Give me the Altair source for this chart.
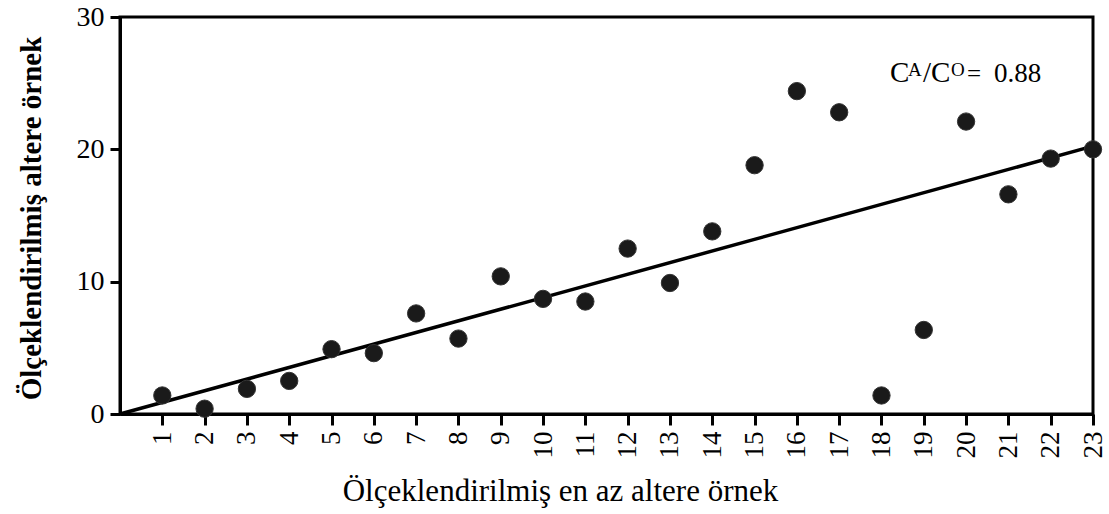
import altair as alt
import pandas as pd

# Data
samples = list(range(1, 24))
altere = [1.4, 0.4, 1.9, 2.5, 4.9, 4.6, 7.6, 5.7, 10.4, 8.7, 8.5, 12.5, 9.9,
          13.8, 18.8, 24.4, 22.8, 1.4, 6.35, 22.1, 16.6, 19.3, 20.0]
fit_x = [0, 23]
fit_y = [0, 20.24]
y_ticks = [0, 10, 20, 30]

# annotation pieces: text, font size, dx, dy
ann_text = ["C", "A", "/C", "O", "=", "0.88"]
ann_size = [29, 19, 29, 19, 25, 27]
ann_dx = [0, 18, 33, 61, 77, 104]
ann_dy = [0, -6, 0, -6, 0, 0]
ann_x = 18.2
ann_y = 25.09

SERIF = "Times New Roman, Liberation Serif, serif"

pts = pd.DataFrame({"x": samples, "y": altere})
fit = pd.DataFrame({"x": fit_x, "y": fit_y})

xscale = alt.Scale(domain=[0, 23], nice=False, zero=True)
yscale = alt.Scale(domain=[0, 30], nice=False)

xaxis = alt.Axis(
    values=samples, labelAngle=270, labelFont=SERIF, labelFontSize=27,
    labelColor="black", labelPadding=6, tickSize=11, tickWidth=3,
    tickColor="black", domainColor="black", domainWidth=3, grid=False,
    title="Ölçeklendirilmiş en az altere örnek", titleFont=SERIF,
    titleFontSize=31, titleFontWeight="normal", titleColor="black",
    titleX=440, titleY=86, titleAlign="center", titleBaseline="alphabetic",
)
yaxis = alt.Axis(
    values=y_ticks, labelFont=SERIF, labelFontSize=28, labelColor="black",
    labelPadding=6, tickSize=10, tickWidth=3, tickColor="black",
    domainColor="black", domainWidth=3, grid=False,
    title="Ölçeklendirilmiş altere örnek", titleFont=SERIF, titleFontSize=29,
    titleFontWeight="bold", titleColor="black", titleX=-80, titleY=201,
    titleAlign="center", titleBaseline="alphabetic", titleAngle=270,
)

line = alt.Chart(fit).mark_line(color="black", strokeWidth=3.5).encode(
    x=alt.X("x:Q", scale=xscale, axis=xaxis),
    y=alt.Y("y:Q", scale=yscale, axis=yaxis),
)

points = alt.Chart(pts).mark_circle(
    size=300, color="#1a1a1a", opacity=1, stroke="#333333", strokeWidth=1
).encode(
    x=alt.X("x:Q", scale=xscale),
    y=alt.Y("y:Q", scale=yscale),
)

layers = [line, points]
for t, s, dx, dy in zip(ann_text, ann_size, ann_dx, ann_dy):
    layers.append(
        alt.Chart(pd.DataFrame({"x": [ann_x], "y": [ann_y], "t": [t]}))
        .mark_text(font=SERIF, fontSize=s, color="black", align="left",
                   baseline="alphabetic", dx=dx, dy=dy)
        .encode(x=alt.X("x:Q", scale=xscale), y=alt.Y("y:Q", scale=yscale),
                text="t:N")
    )

chart = alt.layer(*layers).properties(
    width=973, height=397,
    autosize=alt.AutoSizeParams(type="none"),
    padding={"left": 120, "top": 17, "right": 16, "bottom": 100},
    background="white",
).configure_view(stroke="black", strokeWidth=3)

chart.save("out.html", embed_options={"renderer": "svg", "actions": False})
